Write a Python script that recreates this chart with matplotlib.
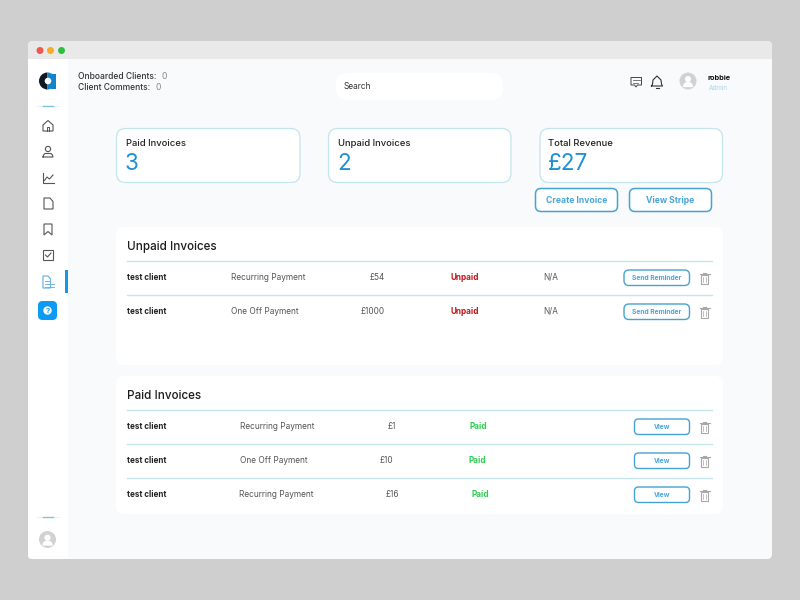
import matplotlib
matplotlib.use('Agg')
import matplotlib.pyplot as plt
from matplotlib.patches import FancyBboxPatch, Rectangle, Circle, Wedge, Polygon

plt.rcParams['font.family'] = ['Inter', 'DejaVu Sans']

# data
stat_titles = ['Paid Invoices', 'Unpaid Invoices', 'Total Revenue']
stat_values = ['3', '2', '£27']
unpaid_clients = ['test client', 'test client']
unpaid_types = ['Recurring Payment', 'One Off Payment']
unpaid_amounts = ['£54', '£1000']
unpaid_status = ['Unpaid', 'Unpaid']
unpaid_due = ['N/A', 'N/A']
paid_clients = ['test client', 'test client', 'test client']
paid_types = ['Recurring Payment', 'One Off Payment', 'Recurring Payment']
paid_amounts = ['£1', '£10', '£16']
paid_status = ['Paid', 'Paid', 'Paid']

LINE = '#c6e6ec'
DARK = '#222222'
GREY = '#555555'

fig = plt.figure(figsize=(8, 6), dpi=100, facecolor='#cfcfcf')
ax = fig.add_axes([0, 0, 1, 1])
ax.set_xlim(0, 800)
ax.set_ylim(600, 0)
ax.axis('off')


def box(x, y, w, h, r, fc, ec='none', lw=0, z=1):
    p = FancyBboxPatch((x + r, y + r), w - 2 * r, h - 2 * r, boxstyle='round,pad=%f,rounding_size=%f' % (r, r),
                       fc=fc, ec=ec, lw=lw, zorder=z, mutation_aspect=1)
    ax.add_patch(p)


def txt(x, y, s, size, color=DARK, ha='left', weight='normal'):
    ax.text(x, y, s, fontsize=size, color=color, ha=ha, va='center', weight=weight, zorder=5)


def trash(x, y):
    c = '#a8a8a8'
    ax.add_patch(Rectangle((x - 3.8, y - 3.5), 7.6, 9, fc='none', ec=c, lw=0.8, zorder=5))
    ax.plot([x - 5, x + 5], [y - 4, y - 4], color=c, lw=0.8, zorder=5)
    ax.plot([x - 1.8, x + 1.8], [y - 5.5, y - 5.5], color=c, lw=0.8, zorder=5)
    ax.plot([x - 1.3, x - 1.3], [y - 1.5, y + 3.5], color=c, lw=0.5, zorder=5)
    ax.plot([x + 1.3, x + 1.3], [y - 1.5, y + 3.5], color=c, lw=0.5, zorder=5)


def avatar(x, y, r):
    ax.add_patch(Circle((x, y), r, fc='#d2d2d2', ec='none', zorder=5))
    ax.add_patch(Circle((x, y - r * 0.22), r * 0.36, fc='white', ec='none', zorder=6))
    ax.add_patch(Wedge((x, y + r * 0.72), r * 0.62, 180, 360, fc='white', ec='none', zorder=6))


def divider(x, y):
    ax.plot([x - 11, x + 11], [y, y], color='#e3f3f6', lw=0.7, zorder=3)
    ax.plot([x - 5, x + 5], [y, y], color='#7cc6dc', lw=1.0, zorder=4)


# window
box(28, 41, 744, 518, 5, '#f9fafc', z=1)
box(28, 41, 744, 18, 5, '#e9e9e9', z=2)
ax.add_patch(Rectangle((28, 50), 744, 9, fc='#e9e9e9', ec='none', zorder=2))
ax.add_patch(Rectangle((28, 59), 40, 495, fc='white', ec='none', zorder=2))
box(28, 540, 40, 19, 4, 'white', z=2)
ax.add_patch(Rectangle((48, 540), 20, 19, fc='white', ec='none', zorder=2))
for cx, col in zip([40, 50.5, 61.5], ['#f2584f', '#f5ac2d', '#2cc13d']):
    ax.add_patch(Circle((cx, 50.5), 3.5, fc=col, ec='none', zorder=3))

# logo
ax.add_patch(Wedge((47.5, 81), 8.5, 90, 270, fc='#0d1a26', ec='none', zorder=3))
ax.add_patch(Wedge((47.5, 81), 8.5, 270, 90, fc='#1483c9', ec='none', zorder=3))
ax.add_patch(Rectangle((51, 74), 5, 15, fc='#1483c9', ec='none', zorder=3))
ax.add_patch(Circle((48, 81), 3.3, fc='white', ec='none', zorder=4))
divider(48, 106)
divider(48, 517)
avatar(47.5, 539.5, 8.5)

# sidebar icons
c = '#555555'
ax.add_patch(Polygon([(43, 125), (48, 120.5), (53, 125), (53, 131), (43, 131)], fc='none', ec=c, lw=0.8, zorder=4))
ax.plot([47, 47, 49, 49], [131, 127, 127, 131], color=c, lw=0.7, zorder=4)
ax.add_patch(Circle((48, 149), 2.6, fc='none', ec=c, lw=0.8, zorder=4))
ax.plot([43, 43.5, 45, 51, 52.5, 53, 43], [157, 155, 153.5, 153.5, 155, 157, 157], color=c, lw=0.8, zorder=4)
ax.plot([43, 43, 53.5], [173, 183, 183], color=c, lw=0.8, zorder=4)
ax.plot([44.5, 47, 49.5, 53], [180.5, 177, 179, 175], color=c, lw=0.8, zorder=4)
ax.add_patch(Polygon([(44, 198), (50, 198), (53, 201.5), (53, 209), (44, 209)], fc='none', ec=c, lw=0.8, zorder=4))
ax.add_patch(Polygon([(44, 224), (52, 224), (52, 235), (48, 231.5), (44, 235)], fc='none', ec=c, lw=0.8, zorder=4))
ax.add_patch(Rectangle((43, 250), 10, 10, fc='none', ec=c, lw=0.8, zorder=4))
ax.plot([45.5, 47.5, 51], [255, 257, 253], color=c, lw=0.8, zorder=4)
c2 = '#6db8e2'
ax.add_patch(Polygon([(43, 276), (48, 276), (50.5, 279), (50.5, 288), (43, 288)], fc='none', ec=c2, lw=0.9, zorder=4))
ax.plot([44.5, 49], [281, 281], color=c2, lw=0.7, zorder=4)
ax.plot([44.5, 54], [284, 284], color=c2, lw=0.7, zorder=4)
ax.plot([44.5, 54], [287, 287], color=c2, lw=0.7, zorder=4)
ax.add_patch(Rectangle((65, 270), 2.5, 23, fc='#1496ee', ec='none', zorder=4))
box(38, 301, 19, 19, 4.5, '#0b9bf5', z=4)
ax.add_patch(Circle((47.5, 310.5), 4.2, fc='white', ec='none', zorder=5))
ax.text(47.5, 310.7, '?', fontsize=5.5, color='#0b9bf5', ha='center', va='center', weight='bold', zorder=6)

# header
txt(78.5, 76.5, 'Onboarded Clients:', 6.1, '#333333', weight='medium')
txt(162, 76.5, '0', 6.2, '#888888')
txt(78.5, 87.5, 'Client Comments:', 6.1, '#333333', weight='medium')
txt(155, 87.5, '0', 6.2, '#888888')
box(336, 73, 167, 27, 12, 'white', z=3)
txt(343.5, 86.5, 'Search', 6, '#333333')
ax.add_patch(Polygon([(631, 77.5), (641.5, 77.5), (641.5, 85), (637.5, 85), (636, 87), (634.5, 85), (631, 85)],
                     fc='none', ec='#444444', lw=0.7, zorder=4))
ax.plot([633, 639.5], [80, 80], color='#444444', lw=0.5, zorder=4)
ax.plot([633, 637.5], [82.5, 82.5], color='#444444', lw=0.5, zorder=4)
ax.plot([651.5, 652.5, 653, 657, 661, 661.5, 662.5, 651.5], [86, 84, 80, 76, 80, 84, 86, 86], color='#333333', lw=0.8, zorder=4)
ax.plot([655.5, 658.5], [87.8, 87.8], color='#333333', lw=0.8, zorder=4)
avatar(688, 81, 8.5)
txt(708, 78, 'robbie', 5.3, '#111111', weight='bold')
txt(709, 88, 'Admin', 4.6, '#a9d5e6')

# stat cards
for x, w, pad, title, val in zip([116.5, 328.5, 540], [183.5, 182.5, 182.5], [9.5, 9.5, 8.5], stat_titles, stat_values):
    box(x, 128.5, w, 54, 9, 'white', '#c3e5ee', 0.9, z=3)
    txt(x + pad, 144, title, 6.8, '#222222', weight='medium')
    txt(x + pad - 1, 163.5, val, 16.2, '#1f8fd6')

# action buttons
for x, w, label in zip([535.5, 629.5], [82, 82], ['Create Invoice', 'View Stripe']):
    box(x, 188.5, w, 23, 5.5, 'white', '#45a3d2', 1.1, z=3)
    txt(x + w / 2, 200.3, label, 6.2, '#49a6da', ha='center', weight='bold')

# unpaid table
box(116, 227, 607, 138, 8, 'white', z=2)
txt(127, 247, 'Unpaid Invoices', 8.4, '#1c1c1c', weight='medium')
unpaid_y = [277.5, 311.5]
ax.plot([127, 712], [261, 261], color=LINE, lw=1.0, zorder=3)
ax.plot([127, 712], [295, 295], color=LINE, lw=1.0, zorder=3)
for i, y in enumerate(unpaid_y):
    txt(127, y, unpaid_clients[i], 5.8, '#222222', weight='bold')
    txt(231, y, unpaid_types[i], 6.0, GREY)
    txt(385, y, unpaid_amounts[i], 5.9, GREY, ha='right')
    txt(464.5, y, unpaid_status[i], 5.9, '#c4161c', ha='center', weight='bold')
    txt(551, y, unpaid_due[i], 5.9, GREY, ha='center')
    box(624, y - 7.5, 65.5, 15.5, 5, 'white', '#45a3d2', 1.0, z=3)
    txt(656.8, y + 0.3, 'Send Reminder', 4.8, '#49a6da', ha='center', weight='bold')
    trash(704.5, y + 0.5)

# paid table
box(116, 376, 607, 138, 8, 'white', z=2)
txt(127, 396, 'Paid Invoices', 8.4, '#1c1c1c', weight='medium')
paid_y = [426.5, 460.5, 494.5]
for y in [409.5, 443.5, 478]:
    ax.plot([127, 712], [y, y], color=LINE, lw=1.0, zorder=3)
type_x = [277.5, 274, 276.5]
amount_x = [396, 393, 399]
status_x = [478.5, 477, 480.5]
for i, y in enumerate(paid_y):
    txt(127, y, paid_clients[i], 5.8, '#222222', weight='bold')
    txt(type_x[i], y, paid_types[i], 6.0, GREY, ha='center')
    txt(amount_x[i], y, paid_amounts[i], 5.9, GREY, ha='right')
    txt(status_x[i], y, paid_status[i], 5.9, '#2ecc55', ha='center', weight='bold')
    box(634.5, y - 7.5, 55, 15.5, 4, 'white', '#45a3d2', 1.0, z=3)
    txt(662, y + 0.3, 'View', 4.8, '#49a6da', ha='center', weight='bold')
    trash(704.5, y + 0.5)

fig.savefig('out.png', dpi=100, facecolor=fig.get_facecolor())
